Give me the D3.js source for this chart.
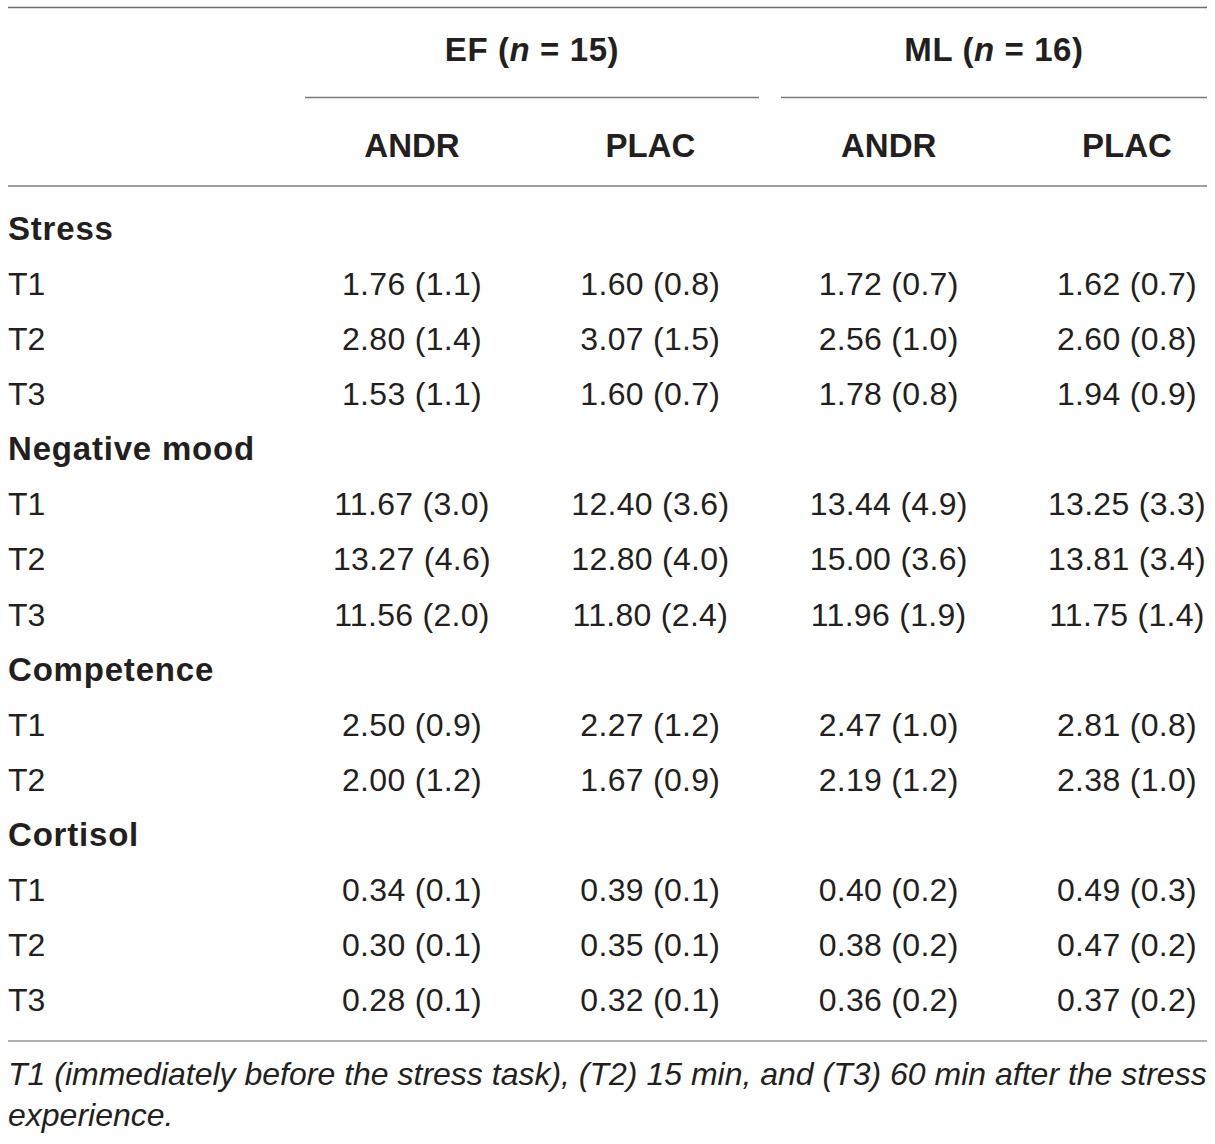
<!DOCTYPE html>
<html>
<head>
<meta charset="utf-8">
<script src="https://cdn.jsdelivr.net/npm/d3@7"></script>
<style>
  body { margin: 0; background: #fff; }
  svg text { font-family: "Liberation Sans", Arial, sans-serif; fill: #231f20; }
</style>
</head>
<body>
<div id="chart"></div>
<script>
// table content
var groups = ["EF", "ML"];
var groupN = [15, 16];
var columns = ["ANDR", "PLAC", "ANDR", "PLAC"];
var sections = ["Stress", "Negative mood", "Competence", "Cortisol"];
var sectionTimes = [["T1", "T2", "T3"], ["T1", "T2", "T3"], ["T1", "T2"], ["T1", "T2", "T3"]];

var efAndrMean = [1.76, 2.80, 1.53, 11.67, 13.27, 11.56, 2.50, 2.00, 0.34, 0.30, 0.28];
var efAndrSd   = [1.1, 1.4, 1.1, 3.0, 4.6, 2.0, 0.9, 1.2, 0.1, 0.1, 0.1];
var efPlacMean = [1.60, 3.07, 1.60, 12.40, 12.80, 11.80, 2.27, 1.67, 0.39, 0.35, 0.32];
var efPlacSd   = [0.8, 1.5, 0.7, 3.6, 4.0, 2.4, 1.2, 0.9, 0.1, 0.1, 0.1];
var mlAndrMean = [1.72, 2.56, 1.78, 13.44, 15.00, 11.96, 2.47, 2.19, 0.40, 0.38, 0.36];
var mlAndrSd   = [0.7, 1.0, 0.8, 4.9, 3.6, 1.9, 1.0, 1.2, 0.2, 0.2, 0.2];
var mlPlacMean = [1.62, 2.60, 1.94, 13.25, 13.81, 11.75, 2.81, 2.38, 0.49, 0.47, 0.37];
var mlPlacSd   = [0.7, 0.8, 0.9, 3.3, 3.4, 1.4, 0.8, 1.0, 0.3, 0.2, 0.2];

var footnote = ["T1 (immediately before the stress task), (T2) 15 min, and (T3) 60 min after the stress",
                "experience."];

var width = 1215, height = 1144;
var fontSize = 32;
var fmtM = d3.format(".2f"), fmtS = d3.format(".1f");

var means = [efAndrMean, efPlacMean, mlAndrMean, mlPlacMean];
var sds = [efAndrSd, efPlacSd, mlAndrSd, mlPlacSd];

// flatten into body rows: section header rows and data rows
var rows = [];
var k = 0;
sections.forEach(function(s, si) {
  rows.push({type: "section", label: s});
  sectionTimes[si].forEach(function(t) {
    rows.push({type: "data", label: t, idx: k});
    k++;
  });
});

var svg = d3.select("#chart").append("svg")
  .attr("width", width)
  .attr("height", height);

var x = d3.scalePoint().domain(d3.range(columns.length)).range([412, 1127]);
var y = d3.scaleLinear().domain([0, rows.length - 1]).range([240, 1011]);

// group spans (x extents of the sub-rules)
var groupSpan = [[305, 759], [781, 1207]];

function rule(y0, x0, x1, col, w) {
  svg.append("line")
    .attr("x1", x0).attr("x2", x1)
    .attr("y1", y0).attr("y2", y0)
    .style("stroke", col)
    .style("stroke-width", w);
}

rule(7.5, 8, 1207, "#6d6d6d", 1.6);
groupSpan.forEach(function(g) { rule(97.5, g[0], g[1], "#7a7a7a", 1.6); });
rule(186, 8, 1207, "#9e9e9e", 2);
rule(1041, 8, 1207, "#b0b0b0", 2);

// group headers
groups.forEach(function(g, i) {
  var t = svg.append("text")
    .attr("x", (groupSpan[i][0] + groupSpan[i][1]) / 2)
    .attr("y", 61)
    .attr("text-anchor", "middle")
    .style("font-size", "33px")
    .style("letter-spacing", "0.6px")
    .style("font-weight", "bold");
  t.append("tspan").text(g + " (");
  t.append("tspan").style("font-style", "italic").text("n");
  t.append("tspan").text(" = " + groupN[i] + ")");
});

// column headers
svg.selectAll("text.colhead")
  .data(columns)
  .enter()
  .append("text")
  .attr("class", "colhead")
  .attr("x", function(d, i) { return x(i); })
  .attr("y", 157)
  .attr("text-anchor", "middle")
  .style("font-size", "33px")
  .style("font-weight", "bold")
  .text(function(d) { return d; });

// row labels
svg.selectAll("text.rowlabel")
  .data(rows)
  .enter()
  .append("text")
  .attr("class", "rowlabel")
  .attr("x", 8)
  .attr("y", function(d, i) { return y(i); })
  .style("font-size", function(d) { return d.type === "section" ? "33px" : fontSize + "px"; })
  .style("letter-spacing", function(d) { return d.type === "section" ? "0.8px" : null; })
  .style("font-weight", function(d) { return d.type === "section" ? "bold" : "normal"; })
  .text(function(d) { return d.label; });

// cells
rows.forEach(function(r, i) {
  if (r.type !== "data") return;
  columns.forEach(function(c, j) {
    svg.append("text")
      .attr("x", x(j))
      .attr("y", y(i))
      .attr("text-anchor", "middle")
      .style("font-size", fontSize + "px")
      .style("letter-spacing", "0.3px")
      .text(fmtM(means[j][r.idx]) + " (" + fmtS(sds[j][r.idx]) + ")");
  });
});

// footnote
svg.selectAll("text.note")
  .data(footnote)
  .enter()
  .append("text")
  .attr("class", "note")
  .attr("x", 8)
  .attr("y", function(d, i) { return 1085 + i * 41; })
  .style("font-size", "32px")
  .style("font-style", "italic")
  .text(function(d) { return d; });
</script>
</body>
</html>
